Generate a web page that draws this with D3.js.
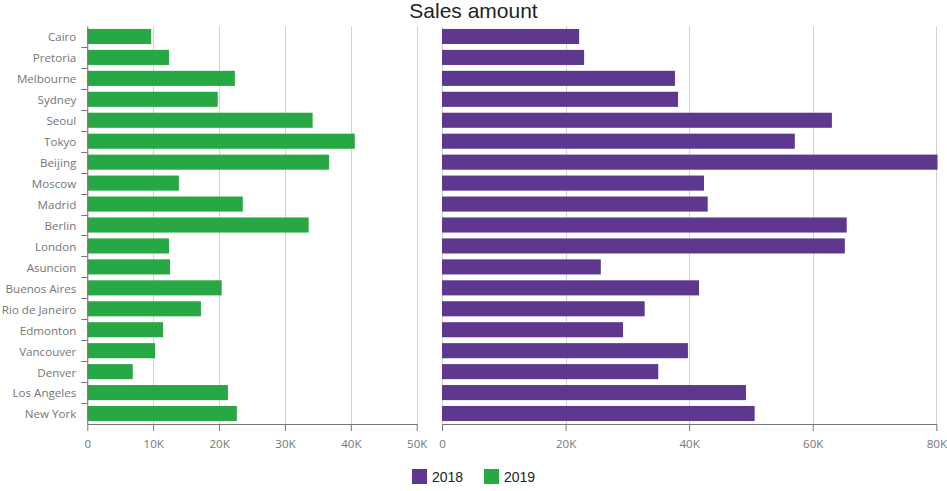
<!DOCTYPE html>
<html>
<head>
<meta charset="utf-8">
<script src="https://cdn.jsdelivr.net/npm/d3@7"></script>
<style>
  html, body { margin: 0; padding: 0; background: #fff; }
  svg { display: block; }
</style>
</head>
<body>
<svg id="chart" width="947" height="491"></svg>
<script>
const cities = ["Cairo","Pretoria","Melbourne","Sydney","Seoul","Tokyo","Beijing","Moscow","Madrid","Berlin","London","Asuncion","Buenos Aires","Rio de Janeiro","Edmonton","Vancouver","Denver","Los Angeles","New York"];
const sales2019 = [9700,12400,22400,19800,34200,40600,36700,13900,23600,33600,12400,12550,20400,17250,11500,10300,6900,21350,22700];
const sales2018 = [22200,23000,37700,38200,63100,57100,80200,42400,43000,65500,65200,25700,41600,32800,29300,39800,35000,49200,50600];
const leftTicks = [0,10000,20000,30000,40000,50000];
const rightTicks = [0,20000,40000,60000,80000];
const seriesNames = ["2018","2019"];
const seriesColors = ["#5e378e","#28a745"];
const titleText = "Sales amount";

const svg = d3.select("#chart");
const plotTop = 26, plotBottom = 424;
const labelFont = "'Open Sans', 'Segoe UI', sans-serif";
const gridColor = "#d3d3d3", axisColor = "#767676", textColor = "#767676";

const y = d3.scaleBand().domain(cities).range([plotTop, plotBottom]).paddingInner(0.28).paddingOuter(0.14);
const xL = d3.scaleLinear().domain([0, 50000]).range([87.3, 416.7]);
const xR = d3.scaleLinear().domain([0, 80000]).range([442, 936.3]);
const fmt = v => v === 0 ? "0" : (v / 1000) + "K";

function panel(x, ticks, values, color) {
  const g = svg.append("g");
  g.selectAll("line.grid").data(ticks).join("line")
    .attr("class", "grid")
    .attr("x1", d => Math.round(x(d)) + 0.5).attr("x2", d => Math.round(x(d)) + 0.5)
    .attr("y1", plotTop).attr("y2", plotBottom)
    .attr("stroke", gridColor).attr("stroke-width", 1);
  g.selectAll("rect").data(cities).join("rect")
    .attr("x", x(0))
    .attr("y", d => y(d))
    .attr("width", (d, i) => x(values[i]) - x(0))
    .attr("height", y.bandwidth())
    .attr("fill", color);
  const ax = g.append("g").attr("transform", `translate(0,${plotBottom})`)
    .call(d3.axisBottom(x).tickValues(ticks).tickFormat(fmt).tickSize(7).tickSizeOuter(0).tickPadding(9));
  ax.select(".domain").attr("stroke", axisColor);
  ax.selectAll(".tick line").attr("stroke", axisColor);
  ax.selectAll("text").attr("fill", textColor).style("font-family", labelFont).style("font-size", "11.6px");
  return g;
}

panel(xL, leftTicks, sales2019, seriesColors[1]);
panel(xR, rightTicks, sales2018, seriesColors[0]);

const yAx = svg.append("g").attr("transform", `translate(${xL(0)},0)`)
  .call(d3.axisLeft(y).tickSize(0).tickPadding(11));
yAx.select(".domain").attr("stroke", axisColor);
yAx.selectAll("text").attr("fill", textColor).attr("dy", "0.42em").style("font-family", labelFont).style("font-size", "11.6px");
const bounds = cities.slice(1).map(c => y(c) - y.step() * y.paddingInner() / 2);
yAx.selectAll("line.sep").data(bounds).join("line")
  .attr("class", "sep")
  .attr("x1", -6).attr("x2", 0)
  .attr("y1", d => Math.round(d) + 0.5).attr("y2", d => Math.round(d) + 0.5)
  .attr("stroke", axisColor);

svg.append("text").attr("x", 473.5).attr("y", 18).attr("text-anchor", "middle")
  .style("font-family", "'Liberation Sans', Arial, sans-serif").style("font-size", "21px")
  .attr("fill", "#232323").text(titleText);

const legX = [412, 484];
const leg = svg.append("g");
seriesNames.forEach((n, i) => {
  leg.append("rect").attr("x", legX[i]).attr("y", 469).attr("width", 15).attr("height", 15).attr("fill", seriesColors[i]);
  leg.append("text").attr("x", legX[i] + 20).attr("y", 481.5)
    .style("font-family", "'Liberation Sans', Arial, sans-serif").style("font-size", "14px")
    .attr("fill", "#232323").text(n);
});
</script>
</body>
</html>
